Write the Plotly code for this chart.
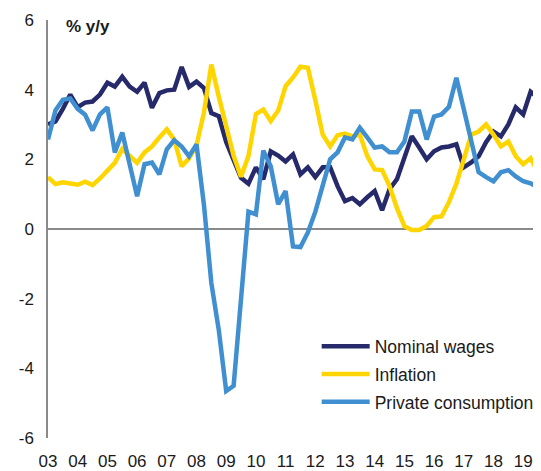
import plotly.graph_objects as go

# Quarterly periods 2003Q1 .. 2019Q3
start_year = 2003
n_quarters = 67
periods = [start_year + i / 4 for i in range(n_quarters)]

years = list(range(2003, 2020))
year_labels = [f"{y % 100:02d}" for y in years]

y_ticks = [-6, -4, -2, 0, 2, 4, 6]
y_tick_labels = [str(v) for v in y_ticks]

nominal_wages = [3.00, 3.09, 3.45, 3.86, 3.50, 3.63, 3.66, 3.86, 4.20, 4.09,
                 4.37, 4.09, 3.94, 4.20, 3.48, 3.90, 3.98, 4.00, 4.65, 4.08,
                 4.23, 4.05, 3.33, 3.24, 2.50, 2.00, 1.47, 1.30, 1.77, 1.43,
                 2.23, 2.11, 1.94, 2.14, 1.57, 1.77, 1.49, 1.77, 1.77, 1.23,
                 0.80, 0.89, 0.71, 0.91, 1.09, 0.54, 1.14, 1.43, 2.09, 2.66,
                 2.34, 2.00, 2.23, 2.34, 2.37, 2.43, 1.77, 1.91, 2.09, 2.49,
                 2.80, 2.66, 3.00, 3.49, 3.29, 3.94, 3.77]

inflation = [1.49, 1.29, 1.34, 1.31, 1.27, 1.36, 1.26, 1.45, 1.68, 1.90,
             2.30, 2.10, 1.90, 2.20, 2.37, 2.63, 2.86, 2.57, 1.80, 2.03,
             2.40, 3.34, 4.72, 3.80, 2.90, 2.10, 1.50, 2.10, 3.30, 3.43,
             3.10, 3.40, 4.10, 4.35, 4.66, 4.63, 3.70, 2.71, 2.37, 2.69,
             2.74, 2.66, 2.71, 2.09, 1.71, 1.69, 1.23, 0.60, 0.08, -0.03,
             -0.03, 0.09, 0.34, 0.36, 0.77, 1.30, 2.00, 2.71, 2.80, 3.00,
             2.71, 2.37, 2.51, 2.09, 1.86, 2.03, 1.63]

private_consumption = [2.57, 3.40, 3.71, 3.75, 3.45, 3.28, 2.83, 3.29, 3.49, 2.20,
                       2.77, 1.85, 0.94, 1.86, 1.91, 1.57, 2.29, 2.55, 2.37, 2.09,
                       2.43, 0.70, -1.55, -2.90, -4.65, -4.50, -2.00, 0.50, 0.42, 2.25,
                       1.80, 0.71, 1.09, -0.50, -0.52, -0.10, 0.49, 1.23, 2.00, 2.20,
                       2.63, 2.57, 2.91, 2.63, 2.34, 2.37, 2.20, 2.20, 2.51, 3.37,
                       3.37, 2.57, 3.23, 3.29, 3.51, 4.34, 3.40, 2.50, 1.63, 1.49,
                       1.37, 1.63, 1.69, 1.51, 1.37, 1.31, 1.20]

series = [
    ("Nominal wages", nominal_wages, "#262A6B"),
    ("Inflation", inflation, "#FFD500"),
    ("Private consumption", private_consumption, "#408FD0"),
]

fig = go.Figure()
for i, (name, vals, color) in enumerate(series):
    fig.add_trace(go.Scatter(
        x=periods, y=vals, name=name, mode="lines",
        line=dict(color=color, width=4.5),
        legendgroup=f"g{i}",
    ))

font_family = "Liberation Sans, Arial, sans-serif"

# The page body has an 8px default margin, so the figure is sized to fit.
fig.update_layout(
    width=533, height=463,
    margin=dict(l=40, r=0, t=12, b=31),
    paper_bgcolor="white", plot_bgcolor="white",
    font=dict(family=font_family, size=17, color="#1a1a1a"),
    showlegend=True,
    legend=dict(
        x=0.545, y=0.262, xanchor="left", yanchor="top",
        bgcolor="rgba(0,0,0,0)", borderwidth=0,
        font=dict(size=17.5, color="#1a1a1a"),
        itemwidth=48, tracegroupgap=2,
    ),
    xaxis=dict(
        range=[2003, 2019.6],
        tickvals=years, ticktext=year_labels,
        showgrid=False, zeroline=False, showline=False,
        ticks="", ticklabelstandoff=11,
    ),
    yaxis=dict(
        range=[-6, 6], tickvals=y_ticks, ticktext=y_tick_labels,
        showgrid=False, showline=True, linecolor="#8a8a8a", linewidth=1.5,
        zeroline=True, zerolinecolor="#8a8a8a", zerolinewidth=2,
        ticks="", ticklabelstandoff=9,
    ),
    annotations=[dict(
        text="<b>% y/y</b>", xref="paper", yref="paper",
        x=0.033, y=0.985, xanchor="left", yanchor="middle",
        showarrow=False, font=dict(size=17, color="#1a1a1a"),
    )],
)

fig.write_html("out.html")
